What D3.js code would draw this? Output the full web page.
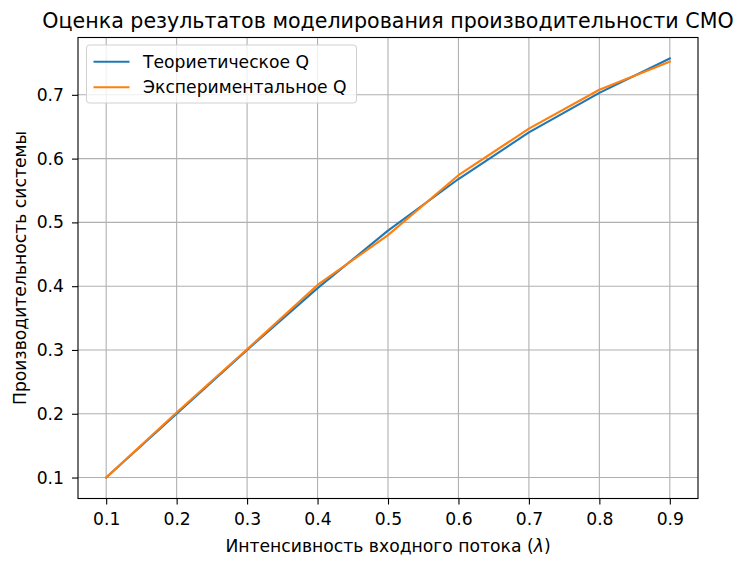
<!DOCTYPE html>
<html><head><meta charset="utf-8">
<script src="https://cdn.jsdelivr.net/npm/d3@7"></script>
<style>body{margin:0;background:#fff}svg{display:block}text{font-family:"DejaVu Sans",sans-serif;fill:#000}</style>
</head><body><div id="chart"></div>
<script>
const lambdas = [0.1, 0.2, 0.3, 0.4, 0.5, 0.6, 0.7, 0.8, 0.9];
const theoretical = [0.1, 0.2, 0.3, 0.397, 0.487, 0.568, 0.641, 0.703, 0.757];
const experimental = [0.1, 0.202, 0.301, 0.402, 0.480, 0.574, 0.647, 0.708, 0.752];
const xTicks = [0.1, 0.2, 0.3, 0.4, 0.5, 0.6, 0.7, 0.8, 0.9];
const yTicks = [0.1, 0.2, 0.3, 0.4, 0.5, 0.6, 0.7];
const seriesNames = ["Теориетическое Q", "Экспериментальное Q"];
const colors = ["#1f77b4", "#ff7f0e"];
const titleText = "Оценка результатов моделирования производительности СМО";
const xLabelMain = "Интенсивность входного потока (";
const xLabelSym = "λ";
const xLabelEnd = ")";
const yLabel = "Производительность системы";

const W = 745, H = 564;
const m = {left: 78, right: 698, top: 37.5, bottom: 498.5};
const svg = d3.select("#chart").append("svg").attr("width", W).attr("height", H);

const xmin = d3.min(lambdas), xmax = d3.max(lambdas);
const xpad = (xmax - xmin) * 0.05;
const allY = theoretical.concat(experimental);
const ymin = d3.min(allY), ymax = d3.max(allY);
const ypad = (ymax - ymin) * 0.05;
const x = d3.scaleLinear().domain([xmin - xpad, xmax + xpad]).range([m.left, m.right]);
const y = d3.scaleLinear().domain([ymin - ypad, ymax + ypad]).range([m.bottom, m.top]);

const gridC = "#b0b0b0";
const g = svg.append("g");
g.selectAll(".vg").data(xTicks).join("line")
  .attr("x1", d => x(d)).attr("x2", d => x(d)).attr("y1", m.top).attr("y2", m.bottom)
  .attr("stroke", gridC).attr("stroke-width", 1.1);
g.selectAll(".hg").data(yTicks).join("line")
  .attr("y1", d => y(d)).attr("y2", d => y(d)).attr("x1", m.left).attr("x2", m.right)
  .attr("stroke", gridC).attr("stroke-width", 1.1);

const fs = 17.2;
const xAxis = svg.append("g").attr("transform", `translate(0,${m.bottom})`)
  .call(d3.axisBottom(x).tickValues(xTicks).tickFormat(d3.format(".1f")).tickSize(6).tickPadding(8));
const yAxis = svg.append("g").attr("transform", `translate(${m.left},0)`)
  .call(d3.axisLeft(y).tickValues(yTicks).tickFormat(d3.format(".1f")).tickSize(6).tickPadding(8));
[xAxis, yAxis].forEach(a => {
  a.select(".domain").remove();
  a.selectAll("line").attr("stroke", "#000").attr("stroke-width", 1.1);
  a.selectAll("text").attr("font-size", fs).attr("font-family", "DejaVu Sans");
});

const line = d3.line().x((d, i) => x(lambdas[i])).y(d => y(d));
[theoretical, experimental].forEach((s, i) => {
  svg.append("path").datum(s).attr("d", line).attr("fill", "none")
    .attr("stroke", colors[i]).attr("stroke-width", 2.1).attr("stroke-linejoin", "round").attr("stroke-linecap", "square");
});

svg.append("rect").attr("x", m.left).attr("y", m.top).attr("width", m.right - m.left).attr("height", m.bottom - m.top)
  .attr("fill", "none").attr("stroke", "#000").attr("stroke-width", 1.1);

const lg = svg.append("g");
lg.append("rect").attr("x", 86.5).attr("y", 45).attr("width", 270).attr("height", 58).attr("rx", 3)
  .attr("fill", "#fff").attr("fill-opacity", 0.8).attr("stroke", "#d0d0d0").attr("stroke-width", 1);
seriesNames.forEach((n, i) => {
  const ly = 61.7 + i * 25.6;
  lg.append("line").attr("x1", 93.5).attr("x2", 129.5).attr("y1", ly).attr("y2", ly)
    .attr("stroke", colors[i]).attr("stroke-width", 2.1);
  lg.append("text").attr("x", 143).attr("y", ly).attr("dy", "0.36em").attr("font-size", fs).text(n);
});

svg.append("text").attr("x", (m.left + m.right) / 2).attr("y", 28).attr("text-anchor", "middle")
  .attr("font-size", 20.6).text(titleText);
const xl = svg.append("text").attr("x", (m.left + m.right) / 2).attr("y", 552).attr("text-anchor", "middle")
  .attr("font-size", fs);
xl.append("tspan").text(xLabelMain);
xl.append("tspan").attr("font-style", "italic").text(xLabelSym);
xl.append("tspan").text(xLabelEnd);
svg.append("text").attr("transform", `translate(26,${(m.top + m.bottom) / 2}) rotate(-90)`)
  .attr("text-anchor", "middle").attr("font-size", fs).text(yLabel);
</script></body></html>
